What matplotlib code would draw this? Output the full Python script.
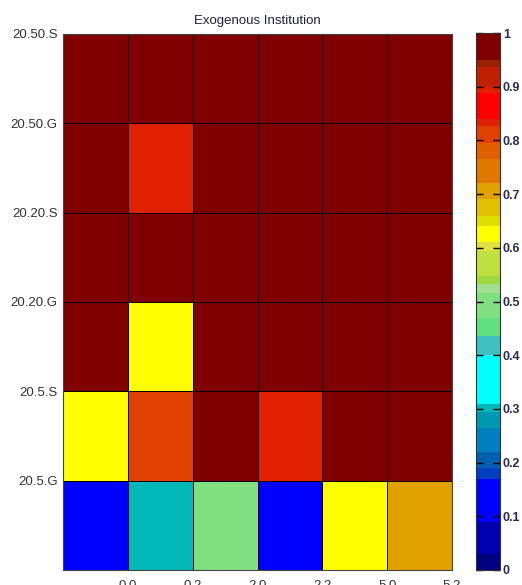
import matplotlib
matplotlib.use("Agg")
import matplotlib.pyplot as plt
from matplotlib.colors import ListedColormap, BoundaryNorm
import numpy as np

plt.rcParams['font.family'] = ['Liberation Sans', 'DejaVu Sans']

row_labels = ['20.50.S', '20.50.G', '20.20.S', '20.20.G', '20.5.S', '20.5.G']
col_labels = ['0.0', '0.2', '2.0', '2.2', '5.0', '5.2']

# one list per row, top to bottom
r_50S = [1.00, 1.00, 1.00, 1.00, 1.00, 1.00]
r_50G = [1.00, 0.89, 1.00, 1.00, 1.00, 1.00]
r_20S = [1.00, 1.00, 1.00, 1.00, 1.00, 1.00]
r_20G = [1.00, 0.62, 1.00, 1.00, 1.00, 1.00]
r_5S = [0.62, 0.81, 1.00, 0.89, 1.00, 1.00]
r_5G = [0.12, 0.30, 0.50, 0.12, 0.62, 0.70]

# stepped colour scale (band edges + colours)
band_edges = [0.0, 0.03, 0.09, 0.17, 0.19, 0.22, 0.265, 0.295, 0.31, 0.40,
              0.435, 0.47, 0.516, 0.533, 0.548, 0.594, 0.61, 0.64, 0.66,
              0.69, 0.72, 0.765, 0.795, 0.826, 0.84, 0.888, 0.90, 0.937,
              0.95, 1.0001]
band_colors = ['#000080', '#0000b0', '#0000ff', '#0040c0', '#0060b0',
               '#0080c0', '#0098b0', '#00b8b8', '#00ffff', '#40c0c0',
               '#60e080', '#80e080', '#a0e090', '#a0d840', '#c0e040',
               '#e0e040', '#ffff00', '#e0e000', '#e0c000', '#e0a000',
               '#e07800', '#e06000', '#e04000', '#e02000', '#ff0000',
               '#e02000', '#c02000', '#992000', '#800000']

data = np.array([r_50S, r_50G, r_20S, r_20G, r_5S, r_5G])
cmap = ListedColormap(band_colors)
norm = BoundaryNorm(band_edges, cmap.N)

fig = plt.figure(figsize=(5.22, 5.85), dpi=100)
ax = fig.add_axes([63 / 522, 15 / 585, 389 / 522, 536 / 585])
cax = fig.add_axes([476 / 522, 15 / 585, 24 / 522, 537 / 585])

mesh = ax.pcolormesh(data, cmap=cmap, norm=norm, edgecolors='black', linewidth=0.6)
ax.set_xlim(0, 6)
ax.set_ylim(6, 0)

ax.set_yticks(np.arange(len(row_labels)))
ax.set_yticklabels(row_labels, fontsize=9.5, color='#333333')
ax.set_xticks(np.arange(1, len(col_labels) + 1))
ax.set_xticklabels(col_labels, fontsize=9.5, color='#333333')
ax.tick_params(axis='both', length=0)
ax.tick_params(axis='y', pad=4)
ax.tick_params(axis='x', pad=7)
for s in ax.spines.values():
    s.set_color('#444444')
    s.set_linewidth(0.8)
ax.set_title('Exogenous Institution', fontsize=9.5, color='#202040', pad=7)

cb = fig.colorbar(mesh, cax=cax, spacing='proportional',
                  ticks=np.round(np.arange(0, 1.01, 0.1), 1))
cb.ax.set_yticklabels(['0', '0.1', '0.2', '0.3', '0.4', '0.5', '0.6', '0.7', '0.8', '0.9', '1'])
cb.ax.set_ylim(0, 1)
cb.ax.minorticks_off()
cb.ax.tick_params(direction='in', length=5, width=1, left=True, right=True,
                  labelsize=9, labelcolor='#2a2a50', pad=2)
for t in cb.ax.get_yticklabels():
    t.set_fontweight('bold')
cb.outline.set_linewidth(0.8)
cb.outline.set_edgecolor('#333333')

fig.savefig('out.png', dpi=100)
